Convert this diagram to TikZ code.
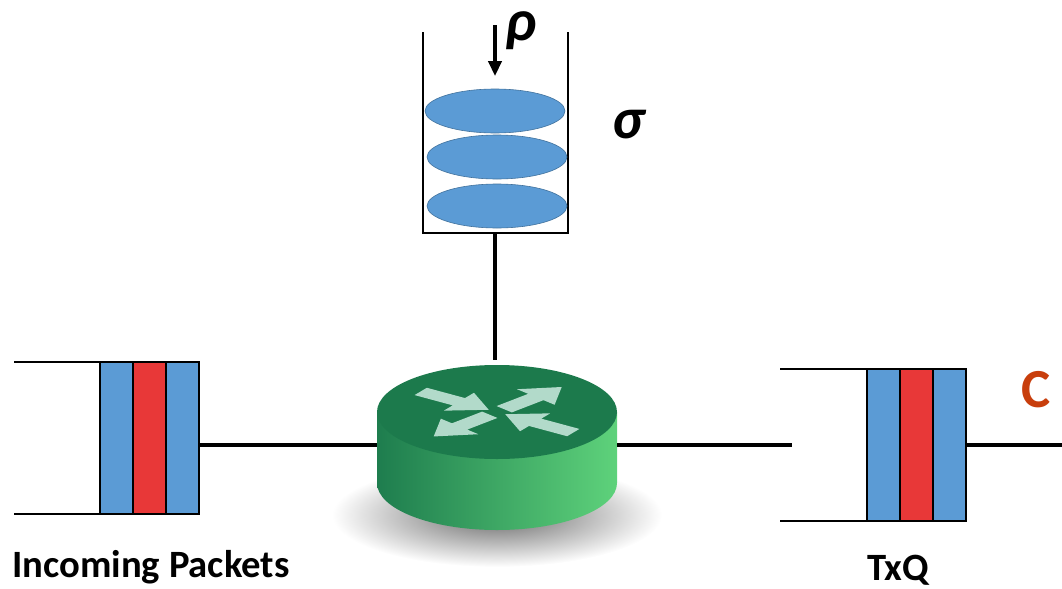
\documentclass[tikz,border=0pt]{standalone}
\usepackage{fontspec}
\setmainfont{Carlito}
\usetikzlibrary{positioning,shapes.geometric,arrows.meta}
\definecolor{qblue}{RGB}{91,155,213}
\definecolor{qred}{RGB}{232,56,56}
\definecolor{tokline}{RGB}{65,113,156}
\definecolor{rtop}{RGB}{28,122,76}
\definecolor{rdark}{RGB}{30,125,78}
\definecolor{rlight}{RGB}{94,210,123}
\definecolor{rmark}{RGB}{178,218,202}
\definecolor{crate}{RGB}{200,62,12}
\tikzset{
  pkt/.style={draw, line width=1.5pt, inner sep=0, outer sep=0, minimum width=0.99cm, minimum height=4.56cm},
  tok/.style={ellipse, draw=tokline, line width=0.5pt, fill=qblue, inner sep=0, minimum width=4.2cm, minimum height=1.32cm},
  link/.style={line width=2.6pt},
  wall/.style={line width=1.4pt},
  lbl/.style={inner sep=0, font=\bfseries\fontsize{33}{38}\selectfont},
  sym/.style={inner sep=0, font=\bfseries\itshape\fontsize{50}{54}\selectfont}
}
\begin{document}
\begin{tikzpicture}[x=0.03cm, y=-0.03cm]
\useasboundingbox (0,0) rectangle (1062,589);
\shade[inner color=black!60, outer color=white] (497,515) ellipse (165 and 52);
\coordinate (rleft) at (377,445);
\coordinate (rright) at (617,445);
\coordinate (rtopc) at (495,360);
\shade[left color=rdark, right color=rlight] (377,412) -- (377,483) arc[start angle=180, end angle=0, x radius=120, y radius=47] -- (617,412) -- cycle;
\fill[rtop] (497,412) ellipse (120 and 47);
\begin{scope}[shift={(497,412)}, yscale=0.4]
\foreach \a/\s/\e in {-34/-92/-10, 146/-92/-10, 44/10/90, 224/10/88}
  \fill[rmark, rotate=\a] (\s,-11) -- (\e-36,-11) -- (\e-36,-27) -- (\e,0) -- (\e-36,27) -- (\e-36,11) -- (\s,11) -- cycle;
\end{scope}
\node[pkt, fill=qblue] (inA) at (116.5,438) {};
\node[pkt, fill=qred, right=0cm of inA] (inB) {};
\node[pkt, fill=qblue, right=0cm of inB] (inC) {};
\draw[wall] (14,362) -- (inA.north west);
\draw[wall] (14,514) -- (inA.south west);
\draw[link] (inC.east |- rleft) -- (rleft);
\node[pkt, fill=qblue] (outA) at (883.5,445) {};
\node[pkt, fill=qred, right=0cm of outA] (outB) {};
\node[pkt, fill=qblue, right=0cm of outB] (outC) {};
\draw[wall] (780,369) -- (outA.north west);
\draw[wall] (780,521) -- (outA.south west);
\coordinate (txin) at (792,445);
\coordinate (txout) at (1062,445);
\draw[link] (rright) -- (txin);
\draw[link] (outC.east) -- (txout);
\draw[wall] (423,32) -- (423,233) -- (568,233) -- (568,32);
\coordinate (bkout) at (495,233);
\draw[link] (bkout) -- (rtopc);
\node[tok] (tokA) at (495,111) {};
\node[tok] (tokB) at (497,157) {};
\node[tok] (tokC) at (497,206) {};
\coordinate (rhoin) at (495,25);
\coordinate (rhotip) at (495,76);
\draw[line width=2.6pt, -{Triangle[length=0.45cm, width=0.4cm]}] (rhoin) -- (rhotip);
\node[sym] (rho) at (521,31) {ρ};
\node[sym] (sigma) at (628,125) {σ};
\node[inner sep=0, font=\bfseries\fontsize{47}{50}\selectfont, text=crate] (cap) at (1036,390) {C};
\node[lbl, anchor=base] (inlbl) at (151,577) {Incoming Packets};
\node[lbl, anchor=base] (txlbl) at (898,580) {TxQ};
\end{tikzpicture}
\end{document}
